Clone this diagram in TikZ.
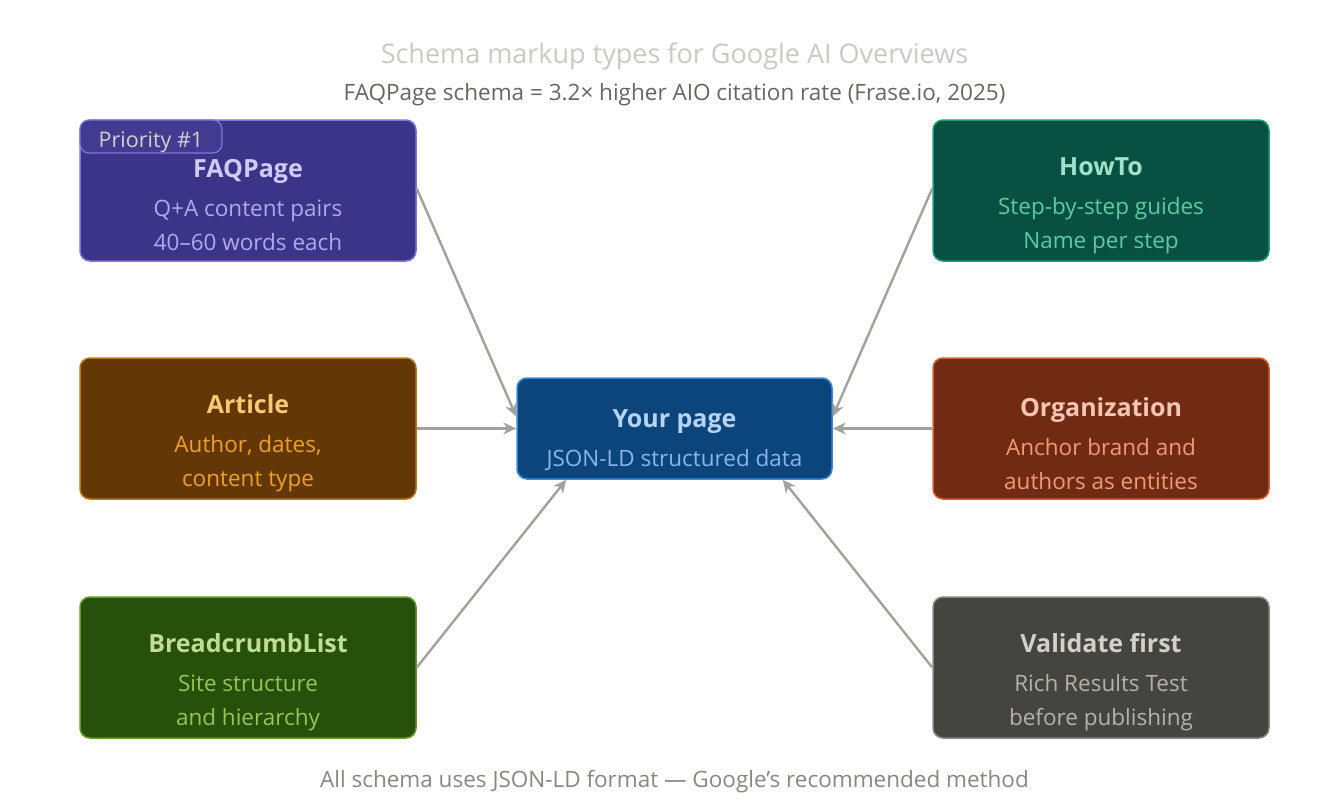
\documentclass[tikz,border=0pt]{standalone}
\usepackage{fontspec}
\setmainfont{Open Sans}
\usetikzlibrary{arrows.meta}

\definecolor{faqfill}{HTML}{3C3489}
\definecolor{faqline}{HTML}{7F77DD}
\definecolor{faqhead}{HTML}{CECBF6}
\definecolor{faqtext}{HTML}{AFA9EC}
\definecolor{howfill}{HTML}{085041}
\definecolor{howline}{HTML}{1D9E75}
\definecolor{howhead}{HTML}{9FE1CB}
\definecolor{howtext}{HTML}{5DCAA5}
\definecolor{artfill}{HTML}{633806}
\definecolor{artline}{HTML}{BA7517}
\definecolor{arthead}{HTML}{FAC775}
\definecolor{arttext}{HTML}{EF9F27}
\definecolor{orgfill}{HTML}{712B13}
\definecolor{orgline}{HTML}{D85A30}
\definecolor{orghead}{HTML}{F5C4B3}
\definecolor{orgtext}{HTML}{F0997B}
\definecolor{crumbfill}{HTML}{27500A}
\definecolor{crumbline}{HTML}{639922}
\definecolor{crumbhead}{HTML}{C0DD97}
\definecolor{crumbtext}{HTML}{97C459}
\definecolor{valfill}{HTML}{444441}
\definecolor{valline}{HTML}{888780}
\definecolor{valhead}{HTML}{D3D1C7}
\definecolor{valtext}{HTML}{B4B2A9}
\definecolor{pagefill}{HTML}{0C447C}
\definecolor{pageline}{HTML}{378ADD}
\definecolor{pagehead}{HTML}{B5D4F4}
\definecolor{pagetext}{HTML}{85B7EB}
\definecolor{linkgray}{HTML}{A3A19A}

\tikzset{
  card/.style={draw=#1line, fill=#1fill, line width=1.5pt, rounded corners=10pt,
    minimum width=336pt, minimum height=141pt},
  cardtext/.style={text=#1text, align=center, font=\fontsize{22.5}{34}\selectfont},
  link/.style={draw=linkgray, line width=2.4pt, -{Stealth[length=13pt,width=12pt]}}
}

\newcommand{\cardhead}[2]{{\color{#1head}\bfseries\fontsize{25}{34}\selectfont #2}\\[5pt]}

\begin{document}
\begin{tikzpicture}[x=1pt,y=-1pt]

  \useasboundingbox[fill=white] (0,0) rectangle (1341,800);

  \node (title) at (674.5,56) {\color{valline!45!white}\fontsize{27}{30}\selectfont Schema markup types for Google AI Overviews};
  \node (subtitle) at (674.5,95) {\color{valline!75!black}\fontsize{22.5}{24}\selectfont FAQPage schema = 3.2× higher AIO citation rate (Frase.io, 2025)};

  \node[card=faq] (faq) at (248,190.5) {};
  \node[card=how] (howto) at (1101,190.5) {};
  \node[card=art] (article) at (248,428.5) {};
  \node[card=org] (org) at (1101,428.5) {};
  \node[card=crumb] (crumb) at (248,667.5) {};
  \node[card=val] (valid) at (1101,667.5) {};
  \node[card=page, minimum width=315pt, minimum height=101pt] (page) at (674.5,428.5) {};

  \node[cardtext=faq] (faqtxt) at ([yshift=-15pt]faq.center) {\cardhead{faq}{FAQPage} Q+A content pairs\\ 40–60 words each};
  \node[cardtext=how] (howtxt) at ([yshift=-15pt]howto.center) {\cardhead{how}{HowTo} Step-by-step guides\\ Name per step};
  \node[cardtext=art] (arttxt) at ([yshift=-15pt]article.center) {\cardhead{art}{Article} Author, dates,\\ content type};
  \node[cardtext=org] (orgtxt) at ([yshift=-15pt]org.center) {\cardhead{org}{Organization} Anchor brand and\\ authors as entities};
  \node[cardtext=crumb] (crumbtxt) at ([yshift=-15pt]crumb.center) {\cardhead{crumb}{BreadcrumbList} Site structure\\ and hierarchy};
  \node[cardtext=val] (valtxt) at ([yshift=-15pt]valid.center) {\cardhead{val}{Validate first} Rich Results Test\\ before publishing};
  \node[cardtext=page] (pagetxt) at ([yshift=-12pt]page.center) {\cardhead{page}{Your page} JSON-LD structured data};

  \node[draw=faqline, fill=faqfill!90!faqline, line width=1.2pt, rounded corners=9pt,
    minimum width=142pt, minimum height=33pt, inner ysep=0pt, text height=24pt, text depth=3pt,
    text=valhead, font=\fontsize{21.5}{24}\selectfont] (tag) at (151,136.5) {Priority \#1};

  \draw[link] ([yshift=2pt]faq.east) -- ([yshift=12pt]page.west);
  \draw[link] ([yshift=2pt]howto.west) -- ([yshift=12pt]page.east);
  \draw[link] (article.east) -- (page.west);
  \draw[link] (org.west) -- (page.east);
  \draw[link] (crumb.east) -- ([xshift=50pt]page.south west);
  \draw[link] (valid.west) -- ([xshift=-50pt]page.south east);

  \node (footer) at (674.5,782) {\color{valline}\fontsize{22.5}{24}\selectfont All schema uses JSON-LD format — Google’s recommended method};

\end{tikzpicture}
\end{document}
